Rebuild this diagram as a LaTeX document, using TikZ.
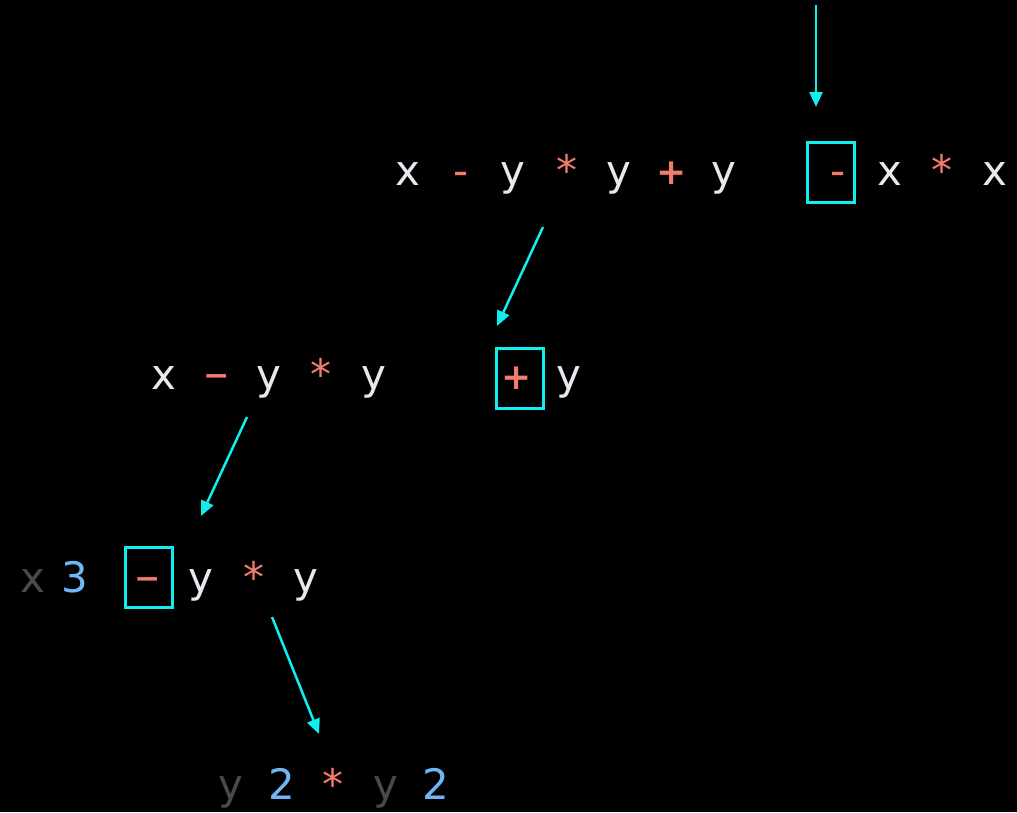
\documentclass[tikz,border=0pt]{standalone}
\usepackage{fontspec}
\setmainfont{DejaVu Sans}
\usetikzlibrary{arrows.meta}
\definecolor{wt}{HTML}{E6E9EE}
\definecolor{rd}{HTML}{F47C6C}
\definecolor{cy}{HTML}{10EEEE}
\definecolor{bl}{HTML}{70B6F6}
\definecolor{gy}{HTML}{4A4A4A}
\newcommand{\shortminus}{\scalebox{0.75}[1]{−}}
\begin{document}
\begin{tikzpicture}[x=1pt,y=-1pt,
  tk/.style={anchor=base,inner sep=0pt,font=\fontsize{42}{50}\selectfont},
  var/.style={tk,text=wt},
  opr/.style={tk,text=rd},
  pls/.style={opr,font=\fontsize{36}{44}\selectfont\bfseries},
  num/.style={tk,text=bl},
  dim/.style={tk,text=gy},
  hl/.style={draw=cy,line width=3pt,minimum width=47pt,minimum height=60pt,inner sep=0pt},
  arr/.style={draw=cy,line width=2.5pt,-{Triangle[length=15pt,width=13pt]}}]
\fill[black] (0,0) rectangle (1017,812);
\useasboundingbox (0,0) rectangle (1017,812);
% line 1
\node[var] (a1) at (408,185) {x};
\node[opr] (a2) at (461,185) {-};
\node[var] (a3) at (513,185) {y};
\node[opr] (a4) at (567,185) {*};
\node[var] (a5) at (619,185) {y};
\node[pls] (a6) at (672,184) {+};
\node[var] (a7) at (724,185) {y};
\node[hl] (b1) at (830.5,172.5) {};
\node[opr] (a8) at (838,185) {-};
\node[var] (a9) at (890,185) {x};
\node[opr] (a10) at (942,185) {*};
\node[var] (a11) at (995,185) {x};
% line 2
\node[var] (c1) at (164,389) {x};
\node[opr] (c2) at (217,389) {\shortminus};
\node[var] (c3) at (269,389) {y};
\node[opr] (c4) at (321,389) {*};
\node[var] (c5) at (374,389) {y};
\node[hl] (b2) at (519.5,378) {};
\node[pls] (c6) at (517,389) {+};
\node[var] (c7) at (569,389) {y};
% line 3
\node[dim] (d1) at (33,592) {x};
\node[num] (d2) at (75,592) {3};
\node[hl] (b3) at (148.5,577) {};
\node[opr] (d3) at (148,592) {\shortminus};
\node[var] (d4) at (201,592) {y};
\node[opr] (d5) at (254,592) {*};
\node[var] (d6) at (306,592) {y};
% line 4
\node[dim] (e1) at (231,799) {y};
\node[num] (e2) at (282,799) {2};
\node[opr] (e3) at (333,799) {*};
\node[dim] (e4) at (386,799) {y};
\node[num] (e5) at (436,799) {2};
% arrows
\coordinate (p0) at (816,5);
\coordinate (p1) at (816,107);
\coordinate (q0) at (543,227);
\coordinate (q1) at (497,326);
\coordinate (r0) at (247,417);
\coordinate (r1) at (201,516);
\coordinate (s0) at (272,617);
\coordinate (s1) at (319,734);
\draw[arr] (p0) -- (p1);
\draw[arr] (q0) -- (q1);
\draw[arr] (r0) -- (r1);
\draw[arr] (s0) -- (s1);
\end{tikzpicture}
\end{document}
